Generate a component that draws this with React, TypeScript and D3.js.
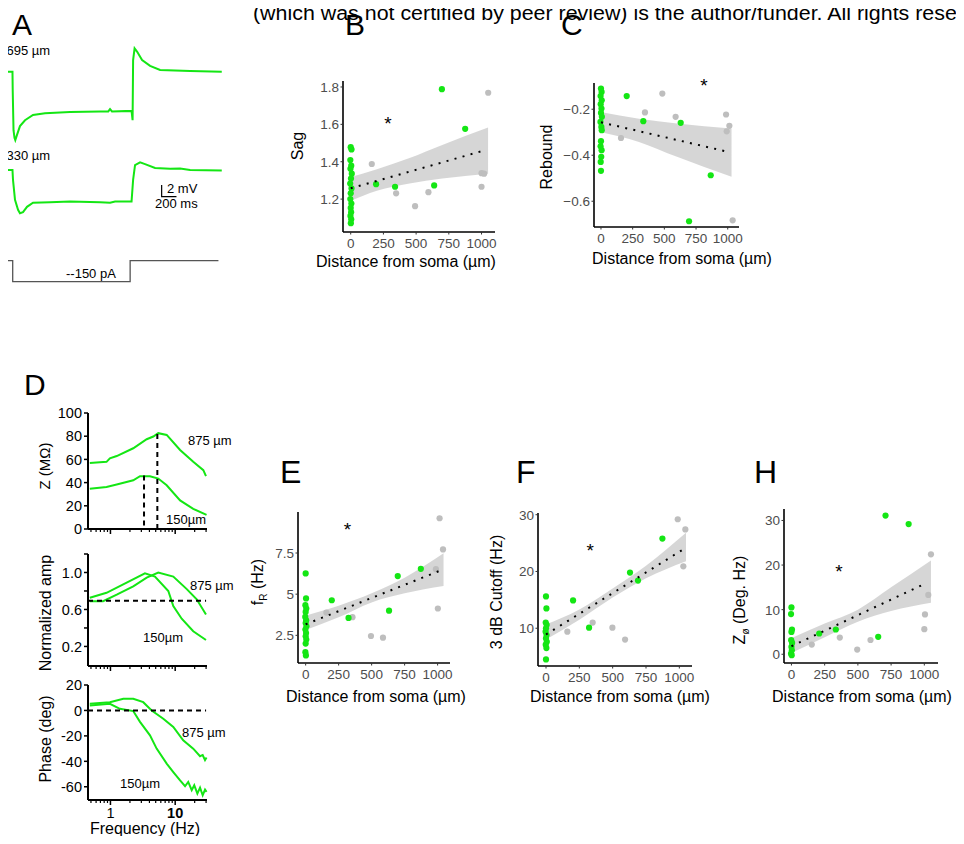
import React from 'react';
import * as d3 from 'd3';

const W = 964;
const H = 844;
const FONT = 'Liberation Sans, Arial, Helvetica, sans-serif';
const GREEN = '#14e614';
const GREY = '#bebebe';

// ---- panel A: voltage traces (ms, mV) and current step (ms, pA)
const trace695: [number, number][] = [
  [0, 0], [78, 0], [81, -3.1], [92, -10], [105, -11.3], [116, -11.7], [139, -10.8],
  [179, -9.3], [247, -8.3], [355, -7.4], [517, -7.1], [854, -6.9], [1259, -6.8],
  [1370, -6.8], [1394, -6.4], [1420, -6.8], [1684, -6.7], [1698, -8.3], [1705, 2],
  [1725, 4.0], [1760, 3.4], [1826, 2.0], [1934, 1.0], [2069, 0.3], [2474, 0.1], [2901, 0]
];
const trace330: [number, number][] = [
  [0, 0], [78, 0], [85, -1.7], [112, -5.1], [153, -6.8], [179, -7.4], [220, -7.2],
  [274, -6.3], [355, -5.6], [584, -5.5], [854, -5.4], [1259, -5.5], [1394, -5.6],
  [1462, -5.4], [1684, -5.4], [1705, -1.7], [1731, 0.85], [1799, 1.3], [1866, 1.0],
  [2001, 0.35], [2204, 0.2], [2339, 0.25], [2474, 0], [2901, -0.1]
];
const currentStep: [number, number][] = [
  [0, 0], [81, 0], [81, -150], [1665, -150], [1665, 0], [2856, 0]
];

// ---- panel B: sag vs distance
const sagGreen: [number, number][] = [
  [0, 1.478], [6, 1.466], [-3, 1.409], [4, 1.379], [-2, 1.362], [8, 1.336], [2, 1.31],
  [-4, 1.283], [6, 1.257], [0, 1.231], [-3, 1.2], [5, 1.176], [0, 1.153], [3, 1.13],
  [-2, 1.11], [4, 1.092], [1, 1.071], [194, 1.28], [339, 1.266], [638, 1.273],
  [697, 1.788], [875, 1.576]
];
const sagGrey: [number, number][] = [
  [161, 1.388], [347, 1.231], [492, 1.162], [594, 1.237], [1000, 1.266],
  [1000, 1.339], [1020, 1.336], [1051, 1.769]
];
const sagFit: [number, number][] = [[0, 1.258], [1020, 1.46]];
const sagBandX = [-10, 200, 450, 700, 1050];
const sagBandHi = [1.315, 1.36, 1.42, 1.49, 1.583];
const sagBandLo = [1.188, 1.245, 1.284, 1.31, 1.336];

// ---- panel C: rebound vs distance
const rebGreen: [number, number][] = [
  [0, -0.11], [5, -0.125], [-3, -0.143], [6, -0.161], [-2, -0.178], [4, -0.197],
  [0, -0.216], [7, -0.233], [-4, -0.255], [3, -0.277], [6, -0.291], [0, -0.339],
  [-3, -0.361], [5, -0.378], [2, -0.407], [-2, -0.429], [0, -0.468], [203, -0.143],
  [334, -0.252], [629, -0.259], [866, -0.487], [695, -0.687]
];
const rebGrey: [number, number][] = [
  [158, -0.325], [347, -0.214], [484, -0.132], [589, -0.233], [987, -0.223],
  [992, -0.296], [1013, -0.272], [1039, -0.683]
];
const rebFit: [number, number][] = [[0, -0.257], [1000, -0.385]];
const rebBandX = [-5, 300, 600, 1030];
const rebBandHi = [-0.212, -0.241, -0.262, -0.284];
const rebBandLo = [-0.299, -0.342, -0.407, -0.494];

// ---- panel D: impedance, normalized amplitude, phase vs frequency (Hz)
const imp875: [number, number][] = [
  [0.48, 57.0], [0.87, 57.9], [0.98, 60.9], [1.25, 62.9], [2.25, 69.6], [3.63, 77.4],
  [4.59, 79.7], [5.48, 82.6], [7.39, 81.1], [11.9, 68.1], [19.0, 57.9], [27.2, 50.7],
  [29.9, 45.5]
];
const imp150: [number, number][] = [
  [0.48, 34.8], [0.87, 36.2], [1.25, 38.3], [2.25, 42.0], [2.86, 45.5], [4.08, 45.5],
  [5.48, 43.5], [7.39, 37.7], [11.9, 24.6], [19.0, 17.4], [30.5, 12.2]
];
const amp875: [number, number][] = [
  [0.48, 0.69], [0.77, 0.69], [1.25, 0.76], [2.25, 0.85], [3.63, 0.945], [5.48, 1.0],
  [9.35, 0.956], [15.1, 0.82], [21.5, 0.71], [29.9, 0.545]
];
const amp150: [number, number][] = [
  [0.48, 0.727], [0.87, 0.78], [1.78, 0.89], [3.41, 0.99], [4.87, 0.956], [7.83, 0.8],
  [9.35, 0.636], [12.6, 0.5], [19.0, 0.364], [29.9, 0.27]
];
const phase875: [number, number][] = [
  [0.48, 5.2], [0.98, 6.5], [1.58, 9.2], [2.25, 9.2], [3.21, 6.5], [4.33, 0],
  [6.55, -6.5], [9.35, -13], [13.3, -23.5], [19.0, -30], [24.2, -36], [26.6, -35],
  [28.9, -39], [30.5, -37]
];
const phase150: [number, number][] = [
  [0.48, 3.9], [0.98, 5.2], [1.4, 1.3], [2.25, -0.5], [2.86, -9], [4.08, -19.6],
  [5.17, -30], [7.39, -41.8], [9.35, -48.4], [11.9, -55], [14.2, -59.6], [15.9, -56.2],
  [18.0, -62.7], [19.7, -58.8], [22.0, -65.4], [24.2, -60.7], [26.6, -66.7],
  [28.9, -62.2], [30.5, -64]
];
const resPeakFreqs = [3.3, 5.3];
const resPeakZ = [46, 82];

// ---- panel E: resonance frequency
const frGreen: [number, number][] = [
  [0, 6.26], [3, 4.74], [-2, 4.33], [5, 4.13], [0, 3.92], [-3, 3.62], [4, 3.41],
  [0, 3.25], [6, 3.05], [-2, 2.85], [3, 2.64], [0, 2.44], [5, 2.24], [0, 2.0],
  [-2, 1.48], [2, 1.28], [198, 4.63], [325, 3.56], [632, 4.0], [698, 6.1], [873, 6.54]
];
const frGrey: [number, number][] = [
  [157, 3.88], [355, 3.6], [495, 2.46], [586, 2.36], [987, 6.52], [1002, 4.13],
  [1015, 9.61], [1041, 7.72]
];
const frFit: [number, number][] = [[0, 3.17], [1041, 6.5]];
const frBandX = [-10, 250, 500, 750, 1045];
const frBandHi = [3.68, 4.3, 5.05, 6.0, 7.48];
const frBandLo = [2.8, 3.6, 4.5, 5.05, 5.49];

// ---- panel F: 3 dB cutoff
const cutGreen: [number, number][] = [
  [0, 15.6], [3, 13.5], [-2, 11.0], [5, 10.6], [0, 10.0], [-3, 9.4], [4, 8.8],
  [0, 8.2], [6, 7.6], [-2, 7.1], [3, 6.5], [0, 4.5], [203, 14.9], [323, 10.1],
  [630, 19.8], [690, 18.4], [873, 25.8]
];
const cutGrey: [number, number][] = [
  [160, 9.4], [350, 11.0], [498, 10.1], [593, 8.0], [988, 29.2], [1030, 20.9], [1045, 27.4]
];
const cutFit: [number, number][] = [[0, 8.9], [1050, 24.2]];
const cutBandX = [-10, 250, 500, 750, 1050];
const cutBandHi = [10.6, 13.3, 17.0, 21.0, 26.8];
const cutBandLo = [7.9, 11.5, 15.4, 18.8, 21.8];

// ---- panel H: total inductive phase
const zphGreen: [number, number][] = [
  [0, 10.5], [-3, 9.0], [4, 5.55], [0, 5.0], [-2, 3.15], [5, 2.55], [0, 1.65],
  [3, 0.9], [-3, 0.15], [2, -0.2], [209, 4.65], [334, 5.55], [653, 3.9], [708, 31.1],
  [882, 29.2]
];
const zphGrey: [number, number][] = [
  [153, 2.18], [364, 3.75], [495, 1.05], [595, 3.2], [1000, 5.63], [1005, 8.93],
  [1030, 13.3], [1050, 22.4]
];
const zphFit: [number, number][] = [[0, 1.8], [1000, 15.75]];
const zphBandX = [-10, 250, 500, 750, 1050];
const zphBandHi = [3.5, 6.9, 10.0, 15.0, 21.0];
const zphBandLo = [0.15, 3.8, 7.3, 9.7, 11.55];

const distTicks = [0, 250, 500, 750, 1000];
const freqMajor = [1, 10];
const freqMinor = [0.5, 0.6, 0.7, 0.8, 0.9, 2, 3, 4, 5, 6, 7, 8, 9, 20, 30];

type Box = { l: number; t: number; r: number; b: number };

function fmtTick(v: number) {
  const s = Number.isInteger(v) ? String(v) : v.toFixed(1);
  return s.replace('-', '\u2212');
}

function Scatter(props: {
  box: Box;
  xDomain: [number, number];
  yDomain: [number, number];
  yTicks: number[];
  green: [number, number][];
  grey: [number, number][];
  fit: [number, number][];
  bandX: number[];
  bandHi: number[];
  bandLo: number[];
  star: [number, number];
  yLabel: React.ReactNode;
  yLabelPos: [number, number];
  xLabelX: number;
  xLabelDy: number;
}) {
  const { box } = props;
  const x = d3.scaleLinear().domain(props.xDomain).range([box.l, box.r]);
  const y = d3.scaleLinear().domain(props.yDomain).range([box.b, box.t]);
  const band = props.bandX.map((d, i) => ({ x: d, hi: props.bandHi[i], lo: props.bandLo[i] }));
  const area = d3
    .area<{ x: number; hi: number; lo: number }>()
    .x(d => x(d.x))
    .y0(d => y(d.lo))
    .y1(d => y(d.hi))
    .curve(d3.curveMonotoneX);
  return (
    <g>
      <path d={area(band) || ''} fill="#999999" fillOpacity={0.4} />
      {props.grey.map((d, i) => (
        <circle key={'g' + i} cx={x(d[0])} cy={y(d[1])} r={3.1} fill={GREY} />
      ))}
      {props.green.map((d, i) => (
        <circle key={'c' + i} cx={x(d[0])} cy={y(d[1])} r={3.1} fill={GREEN} />
      ))}
      <line
        x1={x(props.fit[0][0])}
        y1={y(props.fit[0][1])}
        x2={x(props.fit[1][0])}
        y2={y(props.fit[1][1])}
        stroke="#000"
        strokeWidth={2}
        strokeDasharray="2 6.3"
      />
      <line x1={box.l} y1={box.t} x2={box.l} y2={box.b} stroke="#000" strokeWidth={1.6} />
      <line x1={box.l} y1={box.b} x2={box.r} y2={box.b} stroke="#000" strokeWidth={1.6} />
      {props.yTicks.map(t => (
        <g key={'y' + t}>
          <line x1={box.l - 2.5} x2={box.l} y1={y(t)} y2={y(t)} stroke="#333" />
          <text x={box.l - 4} y={y(t)} dy="0.36em" textAnchor="end" fontSize={13.5} fill="#4d4d4d">
            {fmtTick(t)}
          </text>
        </g>
      ))}
      {distTicks.map(t => (
        <g key={'x' + t}>
          <line x1={x(t)} x2={x(t)} y1={box.b} y2={box.b + 2.5} stroke="#333" />
          <text x={x(t)} y={box.b + 16} textAnchor="middle" fontSize={13.5} fill="#4d4d4d">
            {t}
          </text>
        </g>
      ))}
      <text x={props.xLabelX} y={box.b + props.xLabelDy} textAnchor="middle" fontSize={16}>
        Distance from soma (µm)
      </text>
      <text
        transform={`translate(${props.yLabelPos[0]},${props.yLabelPos[1]}) rotate(-90)`}
        textAnchor="middle"
        fontSize={16}
      >
        {props.yLabel}
      </text>
      <text x={x(props.star[0])} y={y(props.star[1]) + 9} textAnchor="middle" fontSize={19}>
        *
      </text>
    </g>
  );
}

const fx = d3.scaleLog().domain([0.45, 31]).range([88, 207]);

function FreqPanel(props: {
  box: Box;
  yDomain: [number, number];
  ticks: number[];
  labeled: number[];
  traces: [number, number][][];
  showXLabels: boolean;
  children?: React.ReactNode;
}) {
  const { box } = props;
  const y = d3.scaleLinear().domain(props.yDomain).range([box.b, box.t]);
  const line = d3
    .line<[number, number]>()
    .x(d => fx(d[0]))
    .y(d => y(d[1]));
  return (
    <g>
      {props.traces.map((tr, i) => (
        <path key={i} d={line(tr) || ''} fill="none" stroke={GREEN} strokeWidth={2} />
      ))}
      <line x1={box.l} y1={box.t} x2={box.l} y2={box.b} stroke="#000" strokeWidth={2} />
      <line x1={box.l} y1={box.b} x2={box.r} y2={box.b} stroke="#000" strokeWidth={2} />
      {props.ticks.map(t => (
        <g key={'t' + t}>
          <line x1={box.l - 4} x2={box.l} y1={y(t)} y2={y(t)} stroke="#000" strokeWidth={1.5} />
          {props.labeled.includes(t) && (
            <text x={box.l - 6} y={y(t)} dy="0.36em" textAnchor="end" fontSize={14.5}>
              {t.toFixed(props.yDomain[1] < 2 ? 1 : 0)}
            </text>
          )}
        </g>
      ))}
      {freqMinor.map(f => (
        <line key={'m' + f} x1={fx(f)} x2={fx(f)} y1={box.b} y2={box.b + 3} stroke="#000" strokeWidth={1.2} />
      ))}
      {freqMajor.map(f => (
        <g key={'M' + f}>
          <line x1={fx(f)} x2={fx(f)} y1={box.b} y2={box.b + 5} stroke="#000" strokeWidth={1.5} />
          {props.showXLabels && (
            <text x={fx(f)} y={box.b + 18} textAnchor="middle" fontSize={14.5} fontWeight={f === 10 ? 'bold' : 'normal'}>
              {f}
            </text>
          )}
        </g>
      ))}
      {props.children && props.children}
    </g>
  );
}

export default function App() {
  const tx = d3.scaleLinear().domain([0, 2900]).range([6.7, 221.7]);
  const mv = 5.85;
  const vLine = (base: number) =>
    d3
      .line<[number, number]>()
      .x(d => tx(d[0]))
      .y(d => base - d[1] * mv);
  const iy = d3.scaleLinear().domain([-150, 0]).range([281.7, 260.7]);
  const iLine = d3
    .line<[number, number]>()
    .x(d => tx(d[0]))
    .y(d => iy(d[1]));

  const zBox: Box = { l: 88, t: 413, r: 207, b: 529 };
  const aBox: Box = { l: 88, t: 554, r: 207, b: 666 };
  const pBox: Box = { l: 88, t: 685, r: 207, b: 800 };
  const zy = d3.scaleLinear().domain([0, 100]).range([528.3, 413.3]);
  const ay = d3.scaleLinear().domain([-0.0115, 1.2]).range([666, 555]);
  const py = d3.scaleLinear().domain([-70.4, 20]).range([800, 685]);

  return (
    <svg width={W} height={H} style={{ display: 'block', margin: '-8px', fontFamily: FONT }} fontFamily={FONT}>
      <rect width={W} height={H} fill="#fff" />
      <text x={253} y={19.5} fontSize={19.5} textLength={711} lengthAdjust="spacingAndGlyphs">
        (which was not certified by peer review) is the author/funder. All rights reser
      </text>

      {/* panel letters */}
      <text x={12} y={35} fontSize={30}>A</text>
      <text x={345} y={35} fontSize={30}>B</text>
      <text x={561} y={35} fontSize={30}>C</text>
      <text x={24} y={395} fontSize={30}>D</text>
      <text x={280} y={483} fontSize={32}>E</text>
      <text x={516} y={483} fontSize={32}>F</text>
      <text x={754} y={483} fontSize={32}>H</text>

      {/* A */}
      <path d={vLine(71.7)(trace695) || ''} fill="none" stroke={GREEN} strokeWidth={2} />
      <path d={vLine(170)(trace330) || ''} fill="none" stroke={GREEN} strokeWidth={2} />
      <text x={6.5} y={55} fontSize={13}>695 µm</text>
      <text x={6.5} y={160} fontSize={13}>330 µm</text>
      <path
        d={`M${tx(2090)},${196.7 - 2 * mv}V196.7H${tx(2290)}`}
        fill="none"
        stroke="#000"
        strokeWidth={1.2}
      />
      <text x={167} y={193} fontSize={13}>2 mV</text>
      <text x={155} y={208} fontSize={13}>200 ms</text>
      <path d={iLine(currentStep) || ''} fill="none" stroke="#555" strokeWidth={1.3} />
      <text x={66} y={278} fontSize={13}>--150 pA</text>

      {/* B */}
      <Scatter
        box={{ l: 343, t: 81, r: 495, b: 232 }}
        xDomain={[-59, 1103]}
        yDomain={[1.024, 1.832]}
        yTicks={[1.2, 1.4, 1.6, 1.8]}
        green={sagGreen}
        grey={sagGrey}
        fit={sagFit}
        bandX={sagBandX}
        bandHi={sagBandHi}
        bandLo={sagBandLo}
        star={[285, 1.616]}
        yLabel="Sag"
        yLabelPos={[303, 146]}
        xLabelX={406}
        xLabelDy={35}
      />
      {/* C */}
      <Scatter
        box={{ l: 594, t: 83, r: 739, b: 227 }}
        xDomain={[-55, 1089]}
        yDomain={[-0.712, -0.086]}
        yTicks={[-0.6, -0.4, -0.2]}
        green={rebGreen}
        grey={rebGrey}
        fit={rebFit}
        bandX={rebBandX}
        bandHi={rebBandHi}
        bandLo={rebBandLo}
        star={[813, -0.087]}
        yLabel="Rebound"
        yLabelPos={[551.5, 157]}
        xLabelX={682}
        xLabelDy={37}
      />
      {/* E */}
      <Scatter
        box={{ l: 298, t: 512, r: 450, b: 663 }}
        xDomain={[-58, 1094]}
        yDomain={[0.82, 9.99]}
        yTicks={[2.5, 5, 7.5]}
        green={frGreen}
        grey={frGrey}
        fit={frFit}
        bandX={frBandX}
        bandHi={frBandHi}
        bandLo={frBandLo}
        star={[317, 9.08]}
        yLabel={
          <>
            f<tspan fontSize={10} dy={4}>R</tspan>
            <tspan dy={-4}> (Hz)</tspan>
          </>
        }
        yLabelPos={[263, 582]}
        xLabelX={376}
        xLabelDy={39}
      />
      {/* F */}
      <Scatter
        box={{ l: 538, t: 513, r: 692, b: 666 }}
        xDomain={[-60, 1095]}
        yDomain={[3.35, 30.3]}
        yTicks={[10, 20, 30]}
        green={cutGreen}
        grey={cutGrey}
        fit={cutFit}
        bandX={cutBandX}
        bandHi={cutBandHi}
        bandLo={cutBandLo}
        star={[332, 24.1]}
        yLabel="3 dB Cutoff (Hz)"
        yLabelPos={[502, 592]}
        xLabelX={620}
        xLabelDy={36}
      />
      {/* H */}
      <Scatter
        box={{ l: 784, t: 509, r: 938, b: 663 }}
        xDomain={[-56, 1103]}
        yDomain={[-1.96, 32.57]}
        yTicks={[0, 10, 20, 30]}
        green={zphGreen}
        grey={zphGrey}
        fit={zphFit}
        bandX={zphBandX}
        bandHi={zphBandHi}
        bandLo={zphBandLo}
        star={[357, 19.1]}
        yLabel={
          <>
            Z<tspan fontSize={10} dy={4}>ø</tspan>
            <tspan dy={-4}> (Deg. Hz)</tspan>
          </>
        }
        yLabelPos={[745, 600]}
        xLabelX={862}
        xLabelDy={39}
      />

      {/* D: impedance */}
      <FreqPanel
        box={zBox}
        yDomain={[0, 100]}
        ticks={[0, 20, 40, 60, 80, 100]}
        labeled={[0, 20, 40, 60, 80, 100]}
        traces={[imp875, imp150]}
        showXLabels={false}
      >
        {resPeakFreqs.map((f, i) => (
          <line
            key={f}
            x1={fx(f)}
            x2={fx(f)}
            y1={zy(resPeakZ[i])}
            y2={zy(0)}
            stroke="#000"
            strokeWidth={2}
            strokeDasharray="5 4"
          />
        ))}
        <text x={188} y={445} fontSize={13}>875 µm</text>
        <text x={166} y={524} fontSize={13}>150µm</text>
      </FreqPanel>
      <text transform="translate(50,466) rotate(-90)" textAnchor="middle" fontSize={15}>
        Z (MΩ)
      </text>

      {/* D: normalized amplitude */}
      <FreqPanel
        box={aBox}
        yDomain={[-0.0115, 1.2]}
        ticks={[0.2, 0.4, 0.6, 0.8, 1.0, 1.2]}
        labeled={[0.2, 0.6, 1.0]}
        traces={[amp875, amp150]}
        showXLabels={false}
      >
        <line x1={88} x2={fx(30)} y1={ay(0.7)} y2={ay(0.7)} stroke="#000" strokeWidth={2} strokeDasharray="5 4" />
        <text x={190} y={590} fontSize={13}>875 µm</text>
        <text x={143} y={642} fontSize={13}>150µm</text>
      </FreqPanel>
      <text transform="translate(51,613) rotate(-90)" textAnchor="middle" fontSize={16}>
        Normalized amp
      </text>

      {/* D: phase */}
      <FreqPanel
        box={pBox}
        yDomain={[-70.4, 20]}
        ticks={[-60, -40, -20, 0, 20]}
        labeled={[-60, -40, -20, 0, 20]}
        traces={[phase875, phase150]}
        showXLabels={true}
      >
        <line x1={88} x2={fx(30)} y1={py(0)} y2={py(0)} stroke="#000" strokeWidth={2} strokeDasharray="5 4" />
        <text x={182} y={737} fontSize={13}>875 µm</text>
        <text x={120} y={788} fontSize={13}>150µm</text>
      </FreqPanel>
      <text transform="translate(51,739) rotate(-90)" textAnchor="middle" fontSize={16}>
        Phase (deg)
      </text>
      <text x={145} y={833.5} textAnchor="middle" fontSize={16}>
        Frequency (Hz)
      </text>
    </svg>
  );
}
